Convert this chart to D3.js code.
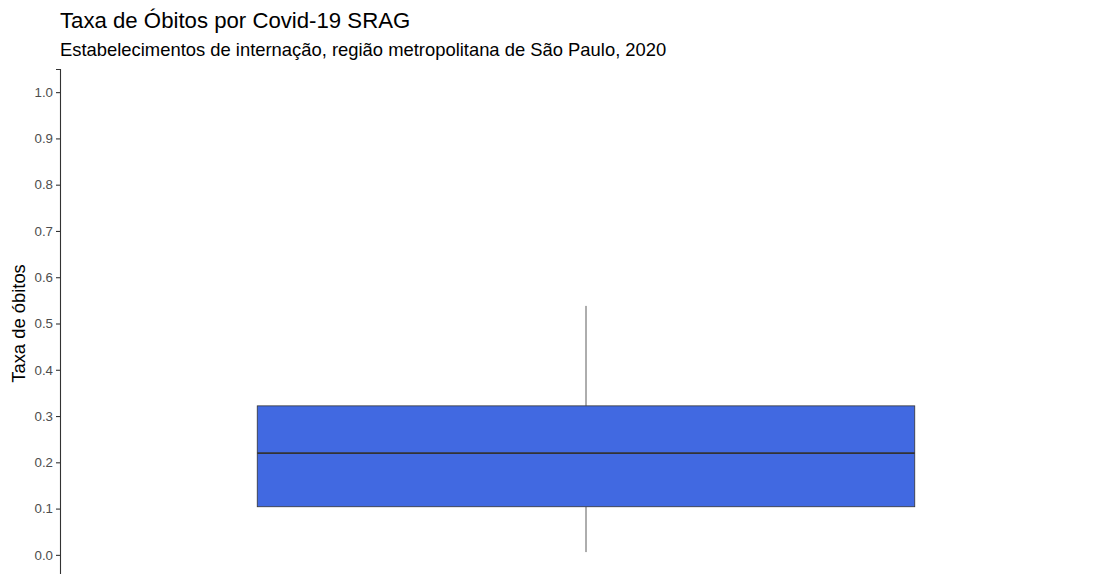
<!DOCTYPE html>
<html><head><meta charset="utf-8">
<script src="https://cdn.jsdelivr.net/npm/d3@7"></script>
<style>body{margin:0;background:#fff;} text{font-family:"Liberation Sans",Arial,sans-serif;}</style>
</head><body>
<svg id="c" width="1104" height="574"></svg>
<script>
const categories = ["Estabelecimentos"];
const lowerWhisker = [0.006];
const q1 = [0.104];
const median = [0.220];
const q3 = [0.322];
const upperWhisker = [0.538];
const yTicks = [0.0,0.1,0.2,0.3,0.4,0.5,0.6,0.7,0.8,0.9,1.0];

const svg = d3.select("#c");
const mLeft = 60, mRight = 1112, mTop = 69, mBottom = 578;
const y = d3.scaleLinear().domain([-0.05,1.05]).range([mBottom, mTop]);
const x = d3.scaleBand().domain(categories).range([mLeft, mRight]).paddingInner(0).paddingOuter(0.1);
const bw = x.bandwidth()*0.75;

const g = svg.append("g");
const ax = svg.append("g").attr("transform",`translate(${mLeft},0)`)
  .call(d3.axisLeft(y).tickValues(yTicks).tickFormat(d3.format(".1f")).tickSize(4).tickPadding(3));
ax.select(".domain").attr("stroke","#333").attr("stroke-width",1.1);
ax.selectAll(".tick line").attr("stroke","#333").attr("stroke-width",1.1);
ax.selectAll(".tick text").attr("fill","#4d4d4d").style("font-size","13.3px");

categories.forEach((c,i)=>{
  const cx = x(c)+x.bandwidth()/2;
  g.append("line").attr("x1",cx).attr("x2",cx).attr("y1",y(q3[i])).attr("y2",y(upperWhisker[i])).attr("stroke","#333").attr("stroke-width",0.8);
  g.append("line").attr("x1",cx).attr("x2",cx).attr("y1",y(q1[i])).attr("y2",y(lowerWhisker[i])).attr("stroke","#333").attr("stroke-width",0.8);
  g.append("rect").attr("x",cx-bw/2).attr("width",bw).attr("y",y(q3[i])).attr("height",y(q1[i])-y(q3[i]))
    .attr("fill","#4169E1").attr("stroke","#333").attr("stroke-width",0.8);
  g.append("line").attr("x1",cx-bw/2).attr("x2",cx+bw/2).attr("y1",y(median[i])).attr("y2",y(median[i])).attr("stroke","#333").attr("stroke-width",1.8);
});

svg.append("text").attr("x",60).attr("y",28).style("font-size","22.2px").attr("fill","#000").text("Taxa de Óbitos por Covid-19 SRAG");
svg.append("text").attr("x",60).attr("y",56).style("font-size","18.4px").attr("fill","#000").text("Estabelecimentos de internação, região metropolitana de São Paulo, 2020");
svg.append("text").attr("transform",`translate(25,${(mTop+mBottom)/2}) rotate(-90)`).attr("text-anchor","middle")
  .style("font-size","18.4px").attr("fill","#000").text("Taxa de óbitos");
</script>
</body></html>
